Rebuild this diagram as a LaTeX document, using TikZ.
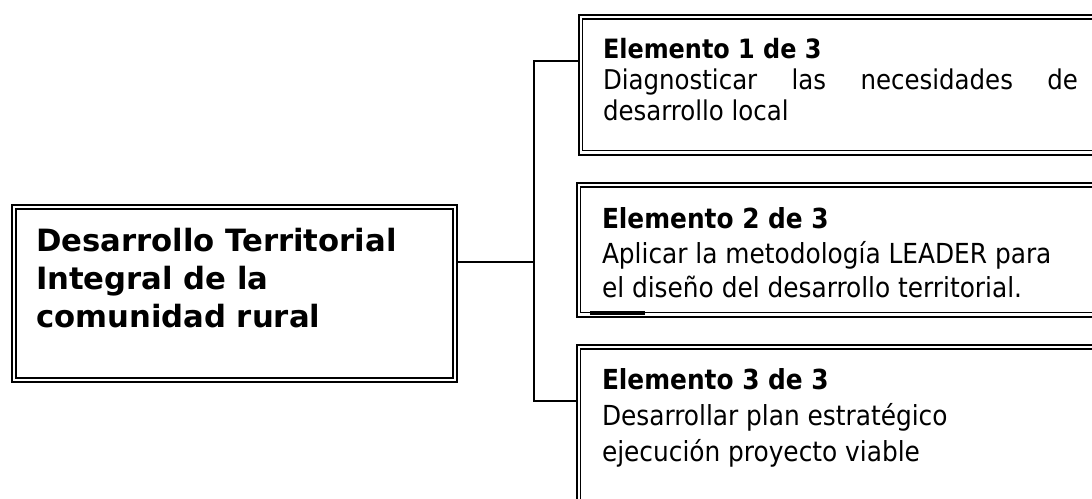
\documentclass[tikz,border=0pt]{standalone}
\usepackage{fontspec}
\setmainfont{DejaVu Sans}
\newfontfamily\condfont{DejaVu Sans Condensed}
\begin{document}
\begin{tikzpicture}[x=1pt,y=-1pt,
  box/.style={draw, line width=2pt, rectangle, inner sep=0pt, anchor=north west},
  innerline/.style={line width=1.3pt},
  link/.style={line width=1.3pt},
  txt/.style={anchor=base west, inner sep=0pt, outer sep=0pt},
  mainfont/.style={font=\bfseries\fontsize{30.7}{36}\selectfont},
  headA/.style={font=\condfont\bfseries\fontsize{26.6}{32}\selectfont},
  bodyA/.style={font=\condfont\fontsize{27.2}{32}\selectfont},
  head/.style={font=\condfont\bfseries\fontsize{27.6}{33}\selectfont},
  body/.style={font=\condfont\fontsize{27.6}{33}\selectfont},
]
\useasboundingbox (0,0) rectangle (1092,498);
\clip (0,0) rectangle (1092,498);
% boxes (outer line as node border, inner line drawn inside)
\node[box, minimum width=445pt, minimum height=177pt] (main) at (11,204) {};
\node[box, minimum width=530pt, minimum height=139.5pt] (b1) at (577.5,14) {};
\node[box, minimum width=530pt, minimum height=133.5pt] (b2) at (575.5,182) {};
\node[box, minimum width=530pt, minimum height=160pt] (b3) at (575.5,344) {};
\foreach \b in {main,b1,b2,b3}
  \draw[innerline] ([xshift=5pt,yshift=-5pt]\b.north west) rectangle ([xshift=-5pt,yshift=5pt]\b.south east);
\draw[line width=3.5pt] (590,313) -- (645,313);
% texts
\node[txt, mainfont] (m1) at (36,251) {Desarrollo Territorial};
\node[txt, mainfont] (m2) at (36,289) {Integral de la};
\node[txt, mainfont] (m3) at (36,327) {comunidad rural};
\node[txt, headA] (t11) at (603,58) {Elemento 1 de 3};
\node[txt, bodyA] (t12) at (603,89) {\makebox[475pt][s]{Diagnosticar las necesidades de}};
\node[txt, bodyA] (t13) at (603,120) {desarrollo local};
\node[txt, head] (t21) at (602,228) {Elemento 2 de 3};
\node[txt, body] (t22) at (602,263) {Aplicar la metodología LEADER para};
\node[txt, body] (t23) at (602,297) {el diseño del desarrollo territorial.};
\node[txt, head] (t31) at (602,389) {Elemento 3 de 3};
\node[txt, body] (t32) at (602,425) {Desarrollar plan estratégico};
\node[txt, body] (t33) at (602,461) {ejecución proyecto viable};
% connectors
\coordinate (jm) at (534,262);
\coordinate (jt) at (534,61);
\coordinate (jb) at (534,401);
\draw[link] (main.east |- jm) -- (jm);
\draw[link] (b1.west |- jt) -- (jt) -- (jb) -- (b3.west |- jb);
\end{tikzpicture}
\end{document}
